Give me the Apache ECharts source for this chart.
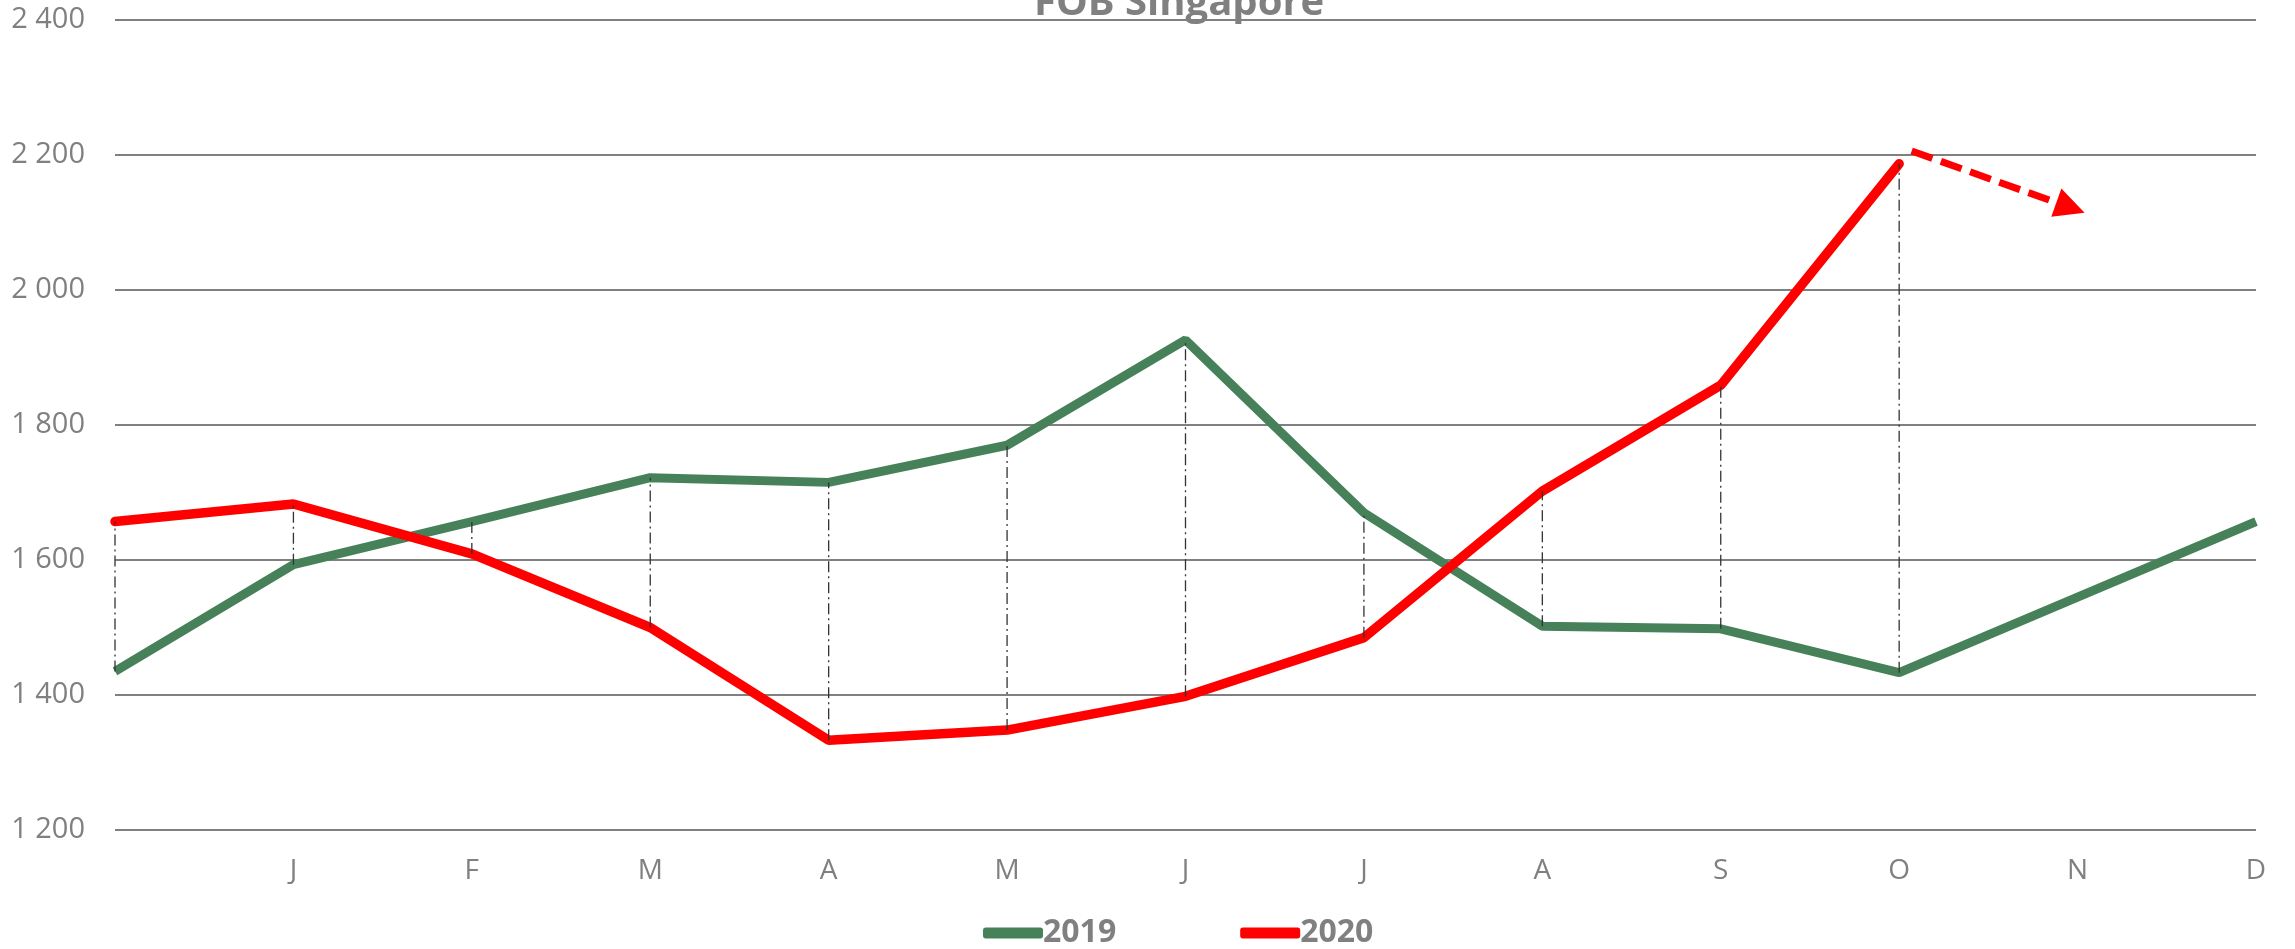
<!DOCTYPE html>
<html>
<head>
<meta charset="utf-8">
<script src="https://cdn.jsdelivr.net/npm/echarts@6/dist/echarts.min.js"></script>
<style>
    html, body { margin: 0; padding: 0; background: #fff; }
    #myChart { width: 2295px; height: 949px; }
</style>
</head>
<body>
<div id="myChart"></div>
<script>
// month initials (first slot is the carry-over point from the previous December)
var months = ['', 'J', 'F', 'M', 'A', 'M', 'J', 'J', 'A', 'S', 'O', 'N', 'D'];

var data2019 = [1435, 1593, 1657, 1722, 1715, 1770, 1926, 1670, 1502, 1498, 1433, 1545, 1657];
var data2020 = [1657, 1683, 1609, 1500, 1333, 1348, 1398, 1485, 1702, 1859, 2187];

// trend arrow after October (x in month slots, y in value)
var arrowFrom = [10.07, 2206];
var arrowTo = [10.96, 2122];

var gray = '#808080';
var font = 'Open Sans';

window.onload = function () {

    var myChart = echarts.init(document.getElementById('myChart'));

    // high-low lines between the two years
    var dropData = [];
    for (var i = 0; i < data2020.length; i++) {
        dropData.push([i, Math.min(data2019[i], data2020[i]), Math.max(data2019[i], data2020[i])]);
    }

    var option = {
        animation: false,
        title: {
            text: 'FOB Singapore',
            left: 1029,
            top: -21,
            textStyle: {
                color: gray,
                fontFamily: font,
                fontWeight: 'bold',
                fontSize: 40
            }
        },
        legend: {
            data: ['2019', '2020'],
            left: 978,
            top: 912,
            icon: 'roundRect',
            itemWidth: 60,
            itemHeight: 11,
            itemGap: 124,
            textStyle: {
                color: gray,
                fontFamily: font,
                fontWeight: 'bold',
                fontSize: 32,
                padding: [0, 0, 0, -5]
            }
        },
        grid: {
            left: 115,
            right: 39,
            top: 20,
            bottom: 119
        },
        xAxis: [{
            type: 'category',
            data: months,
            boundaryGap: false,
            axisLine: { show: false },
            axisTick: { show: false },
            axisLabel: {
                color: gray,
                fontFamily: font,
                fontSize: 28,
                margin: 27,
                interval: 0
            }
        }, {
            type: 'value',
            min: 0,
            max: 12,
            show: false
        }],
        yAxis: {
            type: 'value',
            min: 1200,
            max: 2400,
            interval: 200,
            axisLine: { show: false },
            axisTick: { show: false },
            axisLabel: {
                color: gray,
                fontFamily: font,
                fontSize: 29,
                margin: 30,
                formatter: function (v) {
                    return String(v).replace(/\B(?=(\d{3})+(?!\d))/g, ' ');
                }
            },
            splitLine: {
                lineStyle: { color: gray, width: 2 }
            }
        },
        series: [{
            name: '2019',
            type: 'line',
            data: data2019,
            showSymbol: false,
            symbol: 'none',
            itemStyle: { color: '#46815A' },
            lineStyle: { color: '#46815A', width: 9 },
            z: 3
        }, {
            name: '2020',
            type: 'line',
            data: data2020,
            showSymbol: false,
            symbol: 'none',
            itemStyle: { color: '#FF0000' },
            lineStyle: { color: '#FF0000', width: 9.5, cap: 'round' },
            z: 4
        }, {
            type: 'custom',
            data: dropData,
            silent: true,
            z: 5,
            renderItem: function (params, api) {
                var p1 = api.coord([api.value(0), api.value(1)]);
                var p2 = api.coord([api.value(0), api.value(2)]);
                return {
                    type: 'line',
                    shape: { x1: p1[0], y1: p1[1], x2: p2[0], y2: p2[1] },
                    style: {
                        stroke: '#333',
                        lineWidth: 1.3,
                        lineDash: [11, 4, 2, 4]
                    }
                };
            }
        }, {
            type: 'line',
            xAxisIndex: 1,
            data: [],
            silent: true,
            markLine: {
                silent: true,
                symbol: ['none', 'triangle'],
                symbolSize: [30, 30],
                label: { show: false },
                lineStyle: { color: '#FF0000', width: 7, type: [22, 9], cap: 'butt' },
                data: [[{ coord: arrowFrom }, { coord: arrowTo }]]
            }
        }]
    };

    myChart.setOption(option);
};
</script>
</body>
</html>
